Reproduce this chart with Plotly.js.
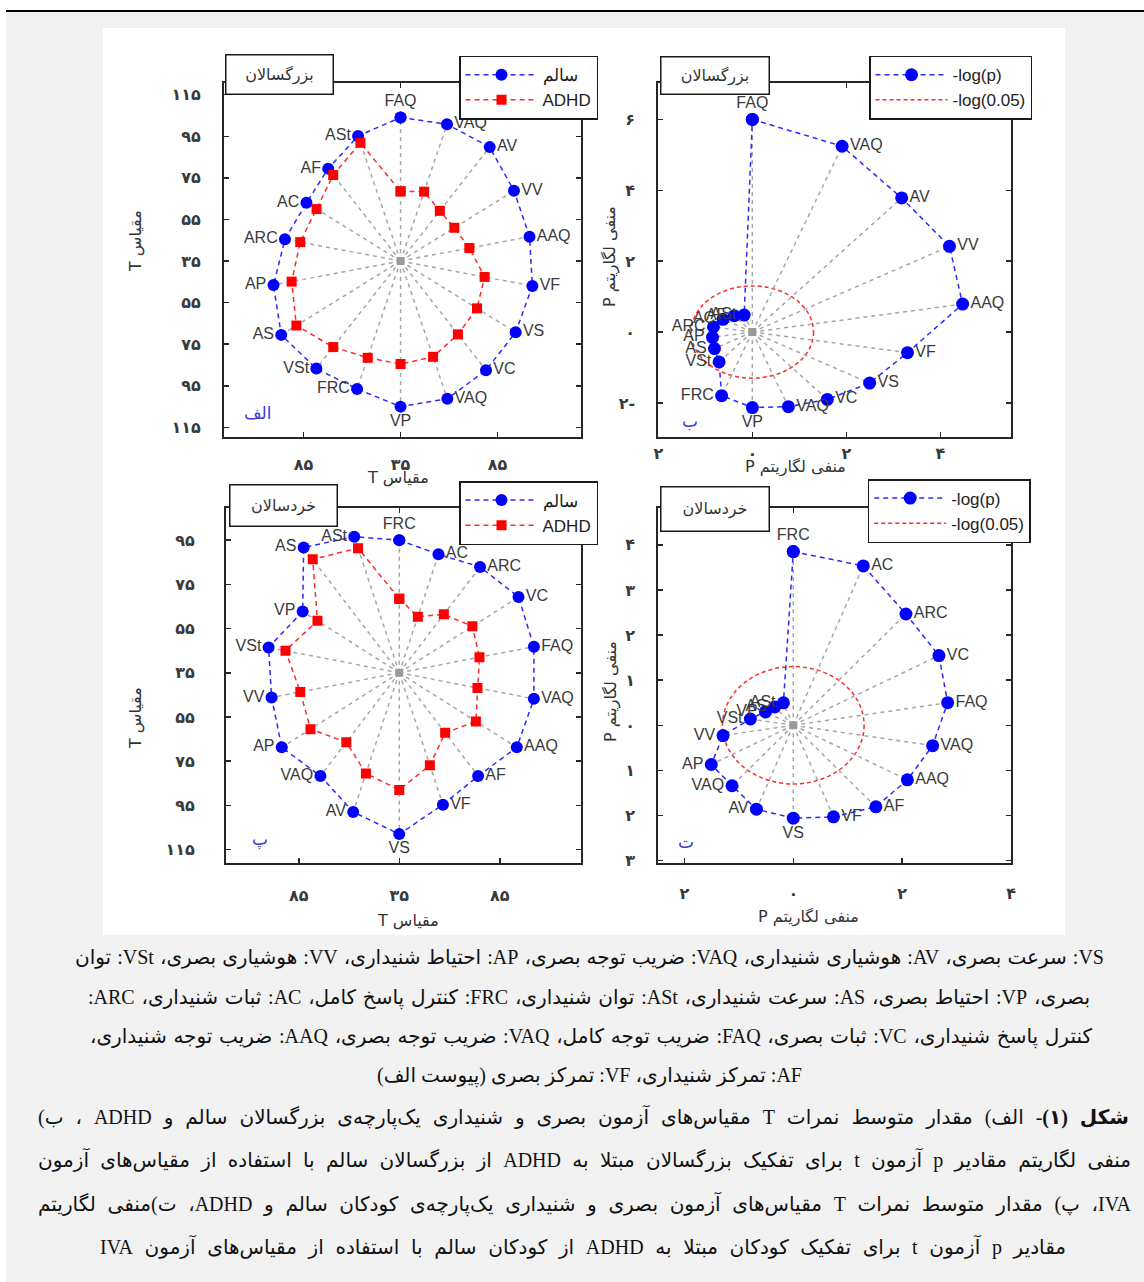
<!DOCTYPE html>
<html lang="fa">
<head>
<meta charset="utf-8">
<script src="https://cdn.plot.ly/plotly-3.0.1.min.js"></script>
<style>
  html, body { margin: 0; padding: 0; background: #fff; }
  body { position: relative; width: 1144px; height: 1282px; overflow: hidden; }
  #rule  { position: absolute; left: 6px; top: 10px; width: 1138px; height: 2px; background: #000; }
  #sheet { position: absolute; left: 6px; top: 12px; width: 1138px; height: 1270px; background: #f2f2f2; }
  #panel { position: absolute; left: 103px; top: 28px; width: 962px; height: 907px; background: #fff; }
  #chart { position: absolute; left: 0; top: 0; width: 1144px; height: 1282px; }
  .cap { position: absolute; direction: rtl; unicode-bidi: isolate; white-space: nowrap;
         font-family: "Liberation Serif", "DejaVu Sans", serif; font-size: 20px;
         color: #111; line-height: 28px; height: 28px; }
  .just { text-align: justify; text-align-last: justify; }
  .mid  { text-align: center; }
  .cap b { font-weight: bold; }
</style>
</head>
<body>
<div id="rule"></div>
<div id="sheet"></div>
<div id="panel"></div>
<div id="chart"></div>

<div class="cap just" style="left:75px; width:1029px; top:943px;">VS: سرعت بصری، AV: هوشیاری شنیداری، VAQ: ضریب توجه بصری، AP: احتیاط شنیداری، VV: هوشیاری بصری، VSt: توان</div>
<div class="cap just" style="left:88px; width:1002px; top:983px;">بصری، VP: احتیاط بصری، AS: سرعت شنیداری، ASt: توان شنیداری، FRC: کنترل پاسخ کامل، AC: ثبات شنیداری، ARC:</div>
<div class="cap just" style="left:90px; width:1002px; top:1022px;">کنترل پاسخ شنیداری، VC: ثبات بصری، FAQ: ضریب توجه کامل، VAQ: ضریب توجه بصری، AAQ: ضریب توجه شنیداری،</div>
<div class="cap mid"  style="left:75px; width:1029px; top:1061px;">AF: تمرکز شنیداری، VF: تمرکز بصری (پیوست الف)</div>
<div class="cap just" style="left:38px; width:1091px; top:1103px;"><b>شکل (۱)</b>- الف) مقدار متوسط نمرات T مقیاس‌های آزمون بصری و شنیداری یک‌پارچه‌ی بزرگسالان سالم و ADHD ، ب)</div>
<div class="cap just" style="left:38px; width:1093px; top:1146px;">منفی لگاریتم مقادیر p آزمون t برای تفکیک بزرگسالان مبتلا به ADHD از بزرگسالان سالم با استفاده از مقیاس‌های آزمون</div>
<div class="cap just" style="left:38px; width:1093px; top:1190px;">IVA، پ) مقدار متوسط نمرات T مقیاس‌های آزمون بصری و شنیداری یک‌پارچه‌ی کودکان سالم و ADHD، ت)منفی لگاریتم</div>
<div class="cap just" style="left:100px; width:966px; top:1233px;">مقادیر p آزمون t برای تفکیک کودکان مبتلا به ADHD از کودکان سالم با استفاده از مقیاس‌های آزمون IVA</div>

<script>
// ---- Data: IVA scale scores, read clockwise starting at the top of each chart ----
const adultScales  = ['FAQ','VAQ','AV','VV','AAQ','VF','VS','VC','VAQ','VP','FRC','VSt','AS','AP','ARC','AC','AF','ASt'];
const adultHealthy = [104, 105, 106.5, 102.5, 102.5, 104, 103.5, 103.5, 105.5, 105, 100.5, 102.5, 106, 101.5, 95.5, 91, 93, 99];
const adultADHD    = [68.5, 70.5, 66.5, 67, 71, 79, 80.5, 81, 84, 84.5, 84.5, 89, 97, 92, 87.5, 85, 89, 95.5];
const adultNegLogP = [6.0, 5.58, 4.94, 4.84, 4.54, 3.35, 2.88, 2.48, 2.24, 2.13, 1.91, 1.1, 0.93, 0.86, 0.84, 0.72, 0.6, 0.51];

const childScales  = ['FRC','AC','ARC','VC','FAQ','VAQ','AAQ','AF','VF','VS','AV','VAQ','AP','VV','VSt','VP','AS','ASt'];
const childHealthy = [95, 92, 97.5, 103.5, 103, 103, 102.5, 96, 98.5, 108, 102, 96, 102.5, 99.5, 101, 90.5, 109, 100.5];
const childADHD    = [68.5, 62, 69.5, 77, 75.5, 74.5, 79, 70.5, 79.5, 88, 83.5, 76, 86, 85, 92.5, 82, 102, 95];
const childNegLogP = [3.85, 3.76, 3.22, 3.09, 2.88, 2.60, 2.42, 2.36, 2.16, 2.06, 1.98, 1.75, 1.74, 1.31, 0.80, 0.59, 0.53, 0.53];

// score at the centre of the T-scale charts, and the significance threshold
const tCentre = 35;
const alpha = 0.05;

// axis tick labels (Persian digits)
const tTickTextAdultY = ['۱۱۵','۹۵','۷۵','۵۵','۳۵','۵۵','۷۵','۹۵','۱۱۵'];
const tTickTextChildY = ['۹۵','۷۵','۵۵','۳۵','۵۵','۷۵','۹۵','۱۱۵'];
const tTickTextX      = ['۸۵','۳۵','۸۵'];
const pTickTextAdultY = ['۶','۴','۲','۰','۲-'];
const pTickTextChildY = ['۴','۳','۲','۱','۰','۱','۲','۳'];
const pTickTextX      = ['۲','۰','۲','۴'];

const legendHealthy = 'سالم';
const legendADHD = 'ADHD';
const legendLogP = '-log(p)';
const legendLogAlpha = '-log(0.05)';
const titleAdults = 'بزرگسالان';
const titleChildren = 'خردسالان';
const axisT = '\u202Bمقیاس T\u202C';
const axisP = '\u202Bمنفی لگاریتم P\u202C';
const panelLetters = ['الف', 'ب', 'پ', 'ت'];

// ---- helpers ----
const W = 1144, H = 1282;
const px = v => v / W;
const py = v => 1 - v / H;

// place values on spokes spaced evenly, clockwise from 12 o'clock
function polar(values, base) {
  const n = values.length;
  const xs = [], ys = [], ang = [];
  values.forEach((v, i) => {
    const deg = 90 - i * 360 / n;
    const t = deg * Math.PI / 180;
    const r = v - base;
    xs.push(r * Math.cos(t));
    ys.push(r * Math.sin(t));
    ang.push(deg);
  });
  return { xs, ys, ang };
}
function closed(a) { return a.concat([a[0]]); }
function labelPos(deg) {
  const c = Math.cos(deg * Math.PI / 180);
  if (Math.abs(deg - 90) < 1e-6) return 'top center';
  if (Math.abs(deg + 90) < 1e-6) return 'bottom center';
  return c > 0 ? 'middle right' : 'middle left';
}

const BLUE = '#0000ff', BLUE_LINE = '#2a2aff', RED = '#ff0000', RED_LINE = '#ff2a2a';
const traces = [];

function spokes(pts, xa, ya) {
  const o = polar([0], 0);
  const x = [], y = [];
  pts.xs.forEach((v, i) => { x.push(o.xs[0], v, null); y.push(o.ys[0], pts.ys[i], null); });
  traces.push({ type: 'scatter', mode: 'lines', x, y, xaxis: xa, yaxis: ya, showlegend: false,
    hoverinfo: 'skip', line: { color: '#a6a6a6', width: 1.5, dash: '4px,4px' } });
  traces.push({ type: 'scatter', mode: 'markers', x: o.xs, y: o.ys, xaxis: xa, yaxis: ya, showlegend: false,
    hoverinfo: 'skip', marker: { symbol: 'square', size: 8, color: '#9a9a9a' } });
}
function series(pts, name, color, lineColor, symbol, size, xa, ya, legend) {
  traces.push({ type: 'scatter', mode: 'lines+markers', name, legend,
    x: closed(pts.xs), y: closed(pts.ys), xaxis: xa, yaxis: ya,
    line: { color: lineColor, width: 1.5, dash: '5px,4px' },
    marker: { symbol, size, color } });
}
function labels(pts, names, xa, ya, gap) {
  traces.push({ type: 'scatter', mode: 'markers+text', x: pts.xs, y: pts.ys, text: names,
    textposition: pts.ang.map(labelPos), xaxis: xa, yaxis: ya, showlegend: false, hoverinfo: 'skip',
    marker: { size: gap, color: 'rgba(0,0,0,0)' },
    textfont: { family: 'Liberation Sans, Arial', size: 16, color: '#3a3a3a' } });
}

// Panel الف: adults, mean scale scores
const aH = polar(adultHealthy, tCentre), aA = polar(adultADHD, tCentre);
spokes(aH, 'x', 'y');
series(aH, legendHealthy, BLUE, BLUE_LINE, 'circle', 12, 'x', 'y', 'legend');
series(aA, legendADHD, RED, RED_LINE, 'square', 10, 'x', 'y', 'legend');
labels(aH, adultScales, 'x', 'y', 10);

// Panel ب: adults, -log(p)
const aP = polar(adultNegLogP, 0);
spokes(aP, 'x2', 'y2');
series(aP, legendLogP, BLUE, BLUE_LINE, 'circle', 13, 'x2', 'y2', 'legend2');
traces.push({ type: 'scatter', mode: 'lines', name: legendLogAlpha, legend: 'legend2', x: [null], y: [null],
  xaxis: 'x2', yaxis: 'y2', line: { color: RED_LINE, width: 1.5, dash: '4px,3px' } });
labels(aP, adultScales, 'x2', 'y2', 11);

// Panel پ: children, mean scale scores
const cH = polar(childHealthy, tCentre), cA = polar(childADHD, tCentre);
spokes(cH, 'x3', 'y3');
series(cH, legendHealthy, BLUE, BLUE_LINE, 'circle', 12, 'x3', 'y3', 'legend3');
series(cA, legendADHD, RED, RED_LINE, 'square', 10, 'x3', 'y3', 'legend3');
labels(cH, childScales, 'x3', 'y3', 10);

// Panel ت: children, -log(p)
const cP = polar(childNegLogP, 0);
spokes(cP, 'x4', 'y4');
series(cP, legendLogP, BLUE, BLUE_LINE, 'circle', 13, 'x4', 'y4', 'legend4');
traces.push({ type: 'scatter', mode: 'lines', name: legendLogAlpha, legend: 'legend4', x: [null], y: [null],
  xaxis: 'x4', yaxis: 'y4', line: { color: RED_LINE, width: 1.5, dash: '4px,3px' } });
labels(cP, childScales, 'x4', 'y4', 11);

// ---- axes ----
function ax(domainPx, range, tickvals, ticktext, standoff, vertical, anchor) {
  return {
    anchor,
    domain: vertical ? [py(domainPx[1]), py(domainPx[0])] : [px(domainPx[0]), px(domainPx[1])],
    range, tickmode: 'array', tickvals, ticktext, ticklabelstandoff: standoff,
    showgrid: false, zeroline: false, showline: true, linecolor: '#262626', linewidth: 2,
    mirror: 'ticks', ticks: 'inside', ticklen: 5, tickwidth: 1.5, tickcolor: '#262626',
    tickfont: { family: 'DejaVu Sans', size: 16, weight: 'bold', color: '#3a3a3a' }, fixedrange: true
  };
}
const tY8 = [80, 60, 40, 20, 0, -20, -40, -60, -80];
const tY7 = [60, 40, 20, 0, -20, -40, -60, -80];
const tX  = [-50, 0, 50];

const legendStyle = (x, y) => ({
  x: px(x), y: py(y), xanchor: 'left', yanchor: 'top', bgcolor: '#fff',
  bordercolor: '#1a1a1a', borderwidth: 1.5, itemwidth: 72, tracegroupgap: 0,
  font: { family: 'Liberation Sans, Arial', size: 17, color: '#222' }
});

function boxTitle(text, cx, cy, w, h) {
  return { text, x: px(cx), y: py(cy), xref: 'paper', yref: 'paper', showarrow: false,
    xanchor: 'center', yanchor: 'middle', width: w, height: h, borderpad: 0,
    bgcolor: '#fff', bordercolor: '#1a1a1a', borderwidth: 1.5,
    font: { family: 'DejaVu Sans', size: 16, color: '#333' } };
}
function axisTitle(text, cx, cy, rot) {
  return { text, x: px(cx), y: py(cy), xref: 'paper', yref: 'paper', showarrow: false,
    xanchor: 'center', yanchor: 'middle', textangle: rot,
    font: { family: 'DejaVu Sans', size: 16, color: '#333' } };
}
function letter(text, cx, cy) {
  return { text, x: px(cx), y: py(cy), xref: 'paper', yref: 'paper', showarrow: false,
    xanchor: 'center', yanchor: 'middle', font: { family: 'DejaVu Sans', size: 17, color: '#3b3bd6' } };
}

const thr = -Math.log10(alpha);
const layout = {
  width: W, height: H, margin: { l: 0, r: 0, t: 0, b: 0 },
  paper_bgcolor: 'rgba(0,0,0,0)', plot_bgcolor: '#fff', showlegend: true,
  xaxis:  ax([224, 581], [-91.0, 93.0], tX, tTickTextX, 12, false, 'y'),
  yaxis:  ax([83, 437], [-84.6, 85.6], tY8, tTickTextAdultY, 18, true, 'x'),
  xaxis2: ax([658.3, 1011], [-2.0, 5.5], [-2, 0, 2, 4], pTickTextX, 0, false, 'y2'),
  yaxis2: ax([83.3, 437.3], [-2.97, 7.02], [6, 4, 2, 0, -2], pTickTextAdultY, 18, true, 'x2'),
  xaxis3: ax([226, 581], [-86.2, 90.4], tX, tTickTextX, 16, false, 'y3'),
  yaxis3: ax([508.3, 863.3], [-86.2, 74.4], tY7, tTickTextChildY, 26, true, 'x3'),
  xaxis4: ax([658.3, 1011], [-2.48, 4.0], [-2, 0, 2, 4], pTickTextX, 14, false, 'y4'),
  yaxis4: ax([508.3, 863.3], [-3.06, 4.81], [4, 3, 2, 1, 0, -1, -2, -3], pTickTextChildY, 18, true, 'x4'),
  legend:  legendStyle(459, 55.7),
  legend2: legendStyle(869, 55.7),
  legend3: legendStyle(459, 481),
  legend4: legendStyle(867.7, 479),
  shapes: [
    { type: 'circle', xref: 'x2', yref: 'y2', x0: -thr, x1: thr, y0: -thr, y1: thr,
      line: { color: RED_LINE, width: 1.5, dash: '4px,3px' }, layer: 'below' },
    { type: 'circle', xref: 'x4', yref: 'y4', x0: -thr, x1: thr, y0: -thr, y1: thr,
      line: { color: RED_LINE, width: 1.5, dash: '4px,3px' }, layer: 'below' }
  ],
  annotations: [
    boxTitle(titleAdults, 279.5, 74.5, 106, 38),
    boxTitle(titleAdults, 715, 75.3, 107, 36),
    boxTitle(titleChildren, 283.5, 505.5, 106, 40),
    boxTitle(titleChildren, 715, 509, 107, 43),
    axisTitle(axisT, 135, 241, -90),
    axisTitle(axisT, 398, 478, 0),
    axisTitle(axisP, 610, 257, -90),
    axisTitle(axisP, 795, 467, 0),
    axisTitle(axisT, 135, 718, -90),
    axisTitle(axisT, 408, 920, 0),
    axisTitle(axisP, 611, 692, -90),
    axisTitle(axisP, 808, 917, 0),
    letter(panelLetters[0], 258, 413),
    letter(panelLetters[1], 690, 421),
    letter(panelLetters[2], 260, 839),
    letter(panelLetters[3], 686, 842)
  ]
};

Plotly.newPlot('chart', traces, layout, { staticPlot: true, displayModeBar: false });
</script>
</body>
</html>
